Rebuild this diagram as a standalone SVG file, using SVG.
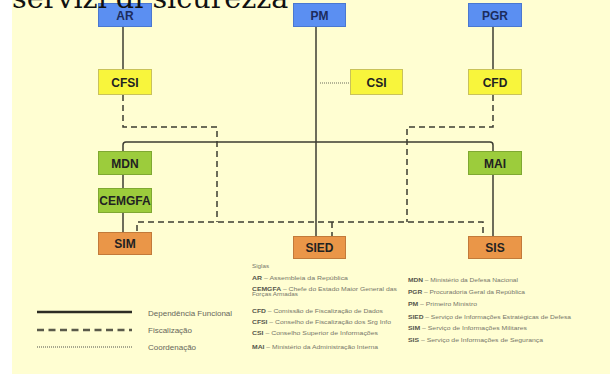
<svg xmlns="http://www.w3.org/2000/svg" width="610" height="376" viewBox="0 0 610 376">
<style>
.box{stroke-width:1}
.blue{fill:#5b8ff2;stroke:#4a78d0}
.yel{fill:#f8f53c;stroke:#c9c25a}
.grn{fill:#9ccc3c;stroke:#7fa832}
.org{fill:#ea9648;stroke:#c27a3a}
.lbl{font-family:"Liberation Sans",Arial,sans-serif;font-size:12px;font-weight:bold;text-anchor:middle;fill:#222}
.lblb{fill:#1c2c5c}
.solid{fill:none;stroke:#3c3c32;stroke-width:1.5}
.dash{fill:none;stroke:#3c3c32;stroke-width:1.5;stroke-dasharray:6 4}
.dot{fill:none;stroke:#6a6a5a;stroke-width:1.2;stroke-dasharray:1 1}
.leg{font-family:"Liberation Sans",Arial,sans-serif;font-size:8px;fill:#66665a}
.sg{font-family:"Liberation Sans",Arial,sans-serif;font-size:5.5px;fill:#77776a}
.sg tspan{font-weight:bold;fill:#55554a}
</style>
<rect x="0" y="0" width="610" height="376" fill="#ffffff"/>
<rect x="12" y="0" width="598" height="374" fill="#fffed2"/>

<g id="connectors">
  <path class="solid" d="M123,27 V69"/>
  <path class="solid" d="M493,27 V69"/>
  <path class="solid" d="M316,27 V236"/>
  <path class="solid" d="M123,151 V145 Q123,142 126,142 H490 Q493,142 493,145 V151"/>
  <path class="solid" d="M123,175 V188"/>
  <path class="solid" d="M123,213 V232"/>
  <path class="solid" d="M493,175 V236"/>
  <path class="dash" d="M123,95 V127 H217 V222"/>
  <path class="dash" d="M493,95 V127 H407 V222"/>
  <path class="dash" d="M137,231 V222 H483 V236"/>
  <path class="dash" d="M332,222 V236"/>
  <path class="dot" d="M320,83 H350"/>
</g>

<g id="AR"><rect class="box blue" x="98.5" y="3.5" width="53" height="23"/><text class="lbl lblb" x="125" y="19.5">AR</text></g>
<g id="PM"><rect class="box blue" x="293.5" y="3.5" width="52" height="23"/><text class="lbl lblb" x="319.5" y="19.5">PM</text></g>
<g id="PGR"><rect class="box blue" x="468.5" y="3.5" width="53" height="23"/><text class="lbl lblb" x="495" y="19.5">PGR</text></g>
<g id="CFSI"><rect class="box yel" x="98.5" y="69.5" width="53" height="25"/><text class="lbl" x="125" y="86.5">CFSI</text></g>
<g id="CSI"><rect class="box yel" x="350.5" y="69.5" width="52" height="25"/><text class="lbl" x="376.5" y="86.5">CSI</text></g>
<g id="CFD"><rect class="box yel" x="468.5" y="69.5" width="53" height="25"/><text class="lbl" x="495" y="86.5">CFD</text></g>
<g id="MDN"><rect class="box grn" x="98.5" y="151.5" width="53" height="23"/><text class="lbl" x="125" y="167.5">MDN</text></g>
<g id="CEMGFA"><rect class="box grn" x="98.5" y="188.5" width="53" height="24"/><text class="lbl" x="125" y="205">CEMGFA</text></g>
<g id="MAI"><rect class="box grn" x="468.5" y="151.5" width="53" height="23"/><text class="lbl" x="495" y="167.5">MAI</text></g>
<g id="SIM"><rect class="box org" x="98.5" y="232.5" width="53" height="22"/><text class="lbl" x="125" y="248">SIM</text></g>
<g id="SIED"><rect class="box org" x="293.5" y="236.5" width="52" height="22"/><text class="lbl" x="319.5" y="252">SIED</text></g>
<g id="SIS"><rect class="box org" x="468.5" y="236.5" width="53" height="22"/><text class="lbl" x="495" y="252">SIS</text></g>

<g id="legend">
  <path d="M37,312 H132" stroke="#2c2c24" stroke-width="2.5"/>
  <path d="M37,330 H132" stroke="#5a5a4a" stroke-width="2.5" stroke-dasharray="7 4.5"/>
  <path d="M37,347 H132" stroke="#8a8a78" stroke-width="1.5" stroke-dasharray="1 1"/>
  <text class="leg" x="148" y="316">Dependência Funcional</text>
  <text class="leg" x="148" y="333">Fiscalização</text>
  <text class="leg" x="148" y="350">Coordenação</text>
</g>

<g id="siglas">
  <text class="sg" x="252" y="267.5" textLength="17" lengthAdjust="spacingAndGlyphs">Siglas</text>
  <text class="sg" x="252" y="280" textLength="96" lengthAdjust="spacingAndGlyphs"><tspan>AR</tspan> – Assembleia da República</text>
  <text class="sg" x="252" y="291" textLength="145" lengthAdjust="spacingAndGlyphs"><tspan>CEMGFA</tspan> – Chefe do Estado Maior General das</text>
  <text class="sg" x="252" y="296" textLength="46" lengthAdjust="spacingAndGlyphs">Forças Armadas</text>
  <text class="sg" x="252" y="313" textLength="131" lengthAdjust="spacingAndGlyphs"><tspan>CFD</tspan> – Comissão de Fiscalização de Dados</text>
  <text class="sg" x="252" y="324" textLength="139" lengthAdjust="spacingAndGlyphs"><tspan>CFSI</tspan> – Conselho de Fiscalização dos Srg Info</text>
  <text class="sg" x="252" y="335" textLength="126" lengthAdjust="spacingAndGlyphs"><tspan>CSI</tspan> – Conselho Superior de Informações</text>
  <text class="sg" x="252" y="349" textLength="126" lengthAdjust="spacingAndGlyphs"><tspan>MAI</tspan> – Ministério da Administração Interna</text>
  <text class="sg" x="408" y="282" textLength="110" lengthAdjust="spacingAndGlyphs"><tspan>MDN</tspan> – Ministério da Defesa Nacional</text>
  <text class="sg" x="408" y="294" textLength="117" lengthAdjust="spacingAndGlyphs"><tspan>PGR</tspan> – Procuradoria Geral da República</text>
  <text class="sg" x="408" y="306" textLength="69" lengthAdjust="spacingAndGlyphs"><tspan>PM</tspan> – Primeiro Ministro</text>
  <text class="sg" x="408" y="319" textLength="163" lengthAdjust="spacingAndGlyphs"><tspan>SIED</tspan> – Serviço de Informações Estratégicas de Defesa</text>
  <text class="sg" x="408" y="330" textLength="119" lengthAdjust="spacingAndGlyphs"><tspan>SIM</tspan> – Serviço de Informações Militares</text>
  <text class="sg" x="408" y="342" textLength="135" lengthAdjust="spacingAndGlyphs"><tspan>SIS</tspan> – Serviço de Informações de Segurança</text>
</g>

<text x="12" y="8" font-family="DejaVu Serif, serif" font-size="28.6" fill="#111">servizi di sicurezza</text>
</svg>
